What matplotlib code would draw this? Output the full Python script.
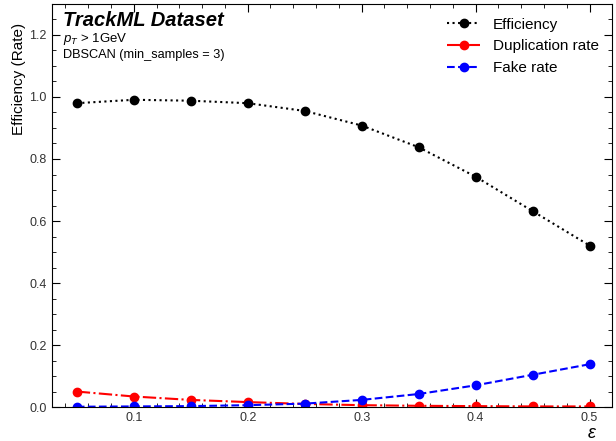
import matplotlib
matplotlib.use("Agg")
import matplotlib.pyplot as plt
from matplotlib.ticker import MultipleLocator

plt.rcParams['font.family'] = ['Liberation Sans', 'DejaVu Sans']
plt.rcParams['mathtext.fontset'] = 'custom'
plt.rcParams['mathtext.rm'] = 'Liberation Sans'
plt.rcParams['mathtext.it'] = 'Liberation Sans:italic'

eps = [0.05, 0.10, 0.15, 0.20, 0.25, 0.30, 0.35, 0.40, 0.45, 0.50]
efficiency = [0.980, 0.991, 0.988, 0.980, 0.955, 0.908, 0.838, 0.743, 0.632, 0.521]
duplication = [0.050, 0.034, 0.023, 0.016, 0.010, 0.006, 0.004, 0.003, 0.002, 0.002]
fake = [0.001, 0.002, 0.003, 0.006, 0.011, 0.023, 0.042, 0.070, 0.104, 0.138]

fig = plt.figure(figsize=(6.16, 4.41), dpi=100)
ax = fig.add_axes([0.084, 0.077, 0.910, 0.914])

ax.plot(eps, efficiency, ':', color='black', marker='o', ms=6, lw=1.5, label='Efficiency')
ax.plot(eps, duplication, '-.', color='red', marker='o', ms=6, lw=1.5, label='Duplication rate')
ax.plot(eps, fake, '--', color='blue', marker='o', ms=6, lw=1.5, label='Fake rate')

ax.set_xlim(0.028, 0.52)
ax.set_ylim(0, 1.3)
ax.xaxis.set_major_locator(MultipleLocator(0.1))
ax.xaxis.set_minor_locator(MultipleLocator(0.02))
ax.yaxis.set_major_locator(MultipleLocator(0.2))
ax.yaxis.set_minor_locator(MultipleLocator(0.05))
ax.tick_params(which='both', direction='in', top=True, right=True, labelsize=9,
               labelcolor='#333333')
ax.tick_params(which='major', length=6)
ax.tick_params(which='minor', length=3)
ax.set_yticks([0.0, 0.2, 0.4, 0.6, 0.8, 1.0, 1.2])
ax.set_yticklabels(['0.0', '0.2', '0.4', '0.6', '0.8', '1.0', '1.2'])

ax.set_xlabel(r'$\varepsilon$', fontsize=13)
ax.xaxis.set_label_coords(0.963, -0.045)
ax.set_ylabel('Efficiency (Rate)', fontsize=11, loc='top')
ax.yaxis.set_label_coords(-0.046, 0.953)

ax.text(0.02, 0.96, 'TrackML Dataset', transform=ax.transAxes, fontsize=14.5,
        fontweight='bold', fontstyle='italic', va='center')
ax.text(0.02, 0.913, r'$p_T$ > 1GeV', transform=ax.transAxes, fontsize=9.5, va='center')
ax.text(0.02, 0.873, 'DBSCAN (min_samples = 3)', transform=ax.transAxes, fontsize=9.2,
        va='center')

ax.legend(loc='upper right', frameon=False, fontsize=11, handlelength=2.2)

fig.savefig('out.png', dpi=100)
